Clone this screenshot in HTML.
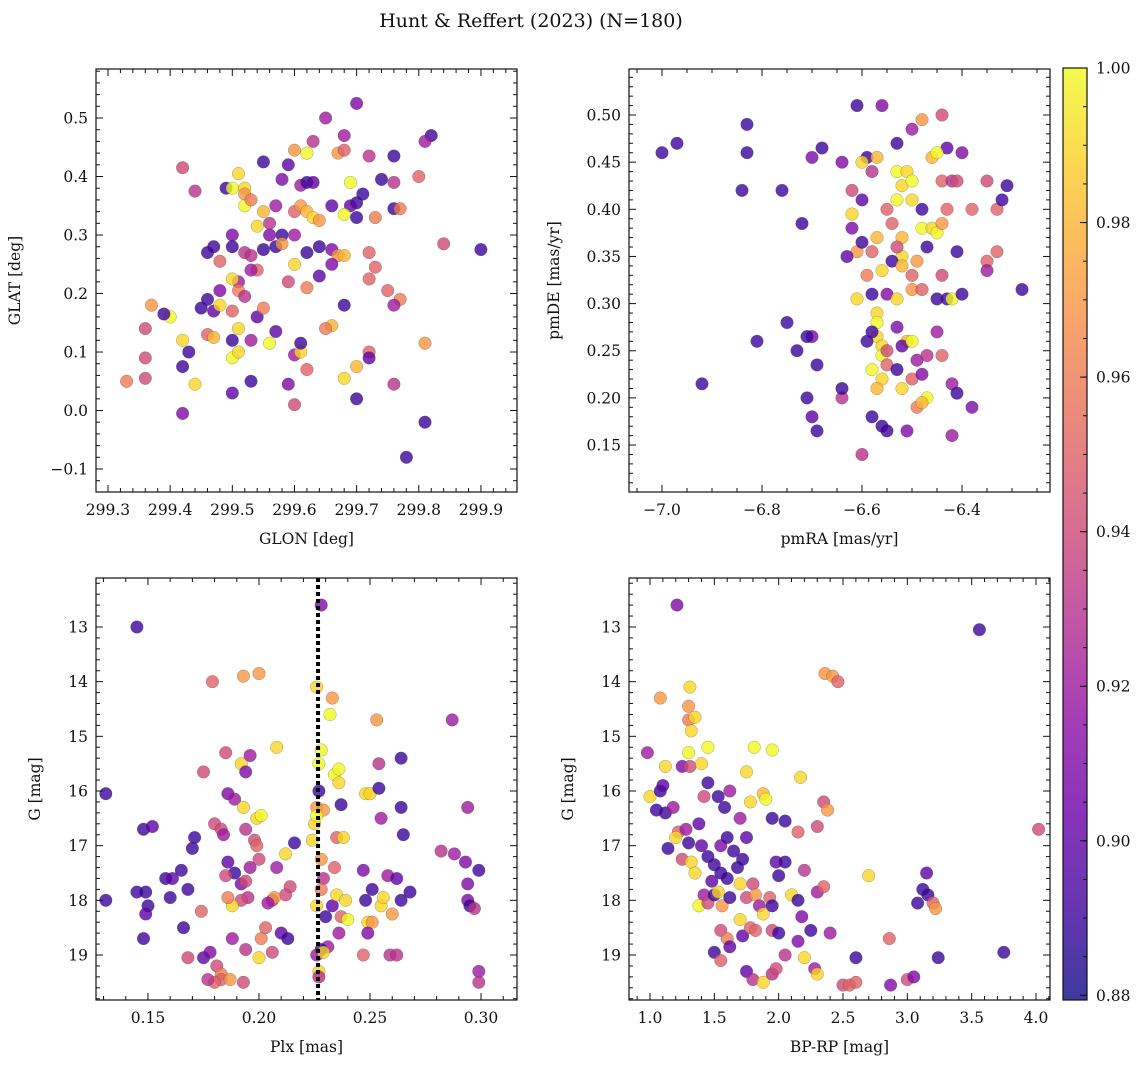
<!DOCTYPE html>
<html><head><meta charset="utf-8">
<style>
html,body{margin:0;padding:0;background:#fff;}
svg{display:block;font-family:"DejaVu Serif","Liberation Serif",serif;}
</style></head>
<body>
<svg id="fig" width="1148" height="1068" viewBox="0 0 1148 1068" xmlns="http://www.w3.org/2000/svg">
<defs>
<linearGradient id="plasmaGrad" x1="0" y1="1" x2="0" y2="0">
<stop offset="0" stop-color="#0d0887"/><stop offset="0.1" stop-color="#41049d"/><stop offset="0.2" stop-color="#6a00a8"/><stop offset="0.3" stop-color="#8f0da4"/><stop offset="0.4" stop-color="#b12a90"/><stop offset="0.5" stop-color="#cc4778"/><stop offset="0.6" stop-color="#e16462"/><stop offset="0.7" stop-color="#f2844b"/><stop offset="0.8" stop-color="#fca636"/><stop offset="0.9" stop-color="#fcce25"/><stop offset="1" stop-color="#f0f921"/>
</linearGradient>
</defs>
<text x="531" y="27" text-anchor="middle" font-size="19" fill="#111">Hunt &amp; Reffert (2023) (N=180)</text>
</svg>
<script>
// ---- Panel 1: GLON vs GLAT ----
const p1Glon=[299.70,299.65,299.82,299.81,299.68,299.63,299.42,299.55,299.59,299.62,299.60,299.67,299.68,299.72,299.76,299.51,299.49,299.50,299.52,299.52,299.44,299.61,299.58,299.62,299.63,299.69,299.74,299.76,299.80,299.71,299.70,299.69,299.73,299.76,299.77,299.84,299.90,299.52,299.53,299.55,299.57,299.60,299.61,299.62,299.63,299.64,299.66,299.68,299.70,299.54,299.56,299.58,299.50,299.47,299.46,299.48,299.50,299.52,299.53,299.55,299.56,299.57,299.58,299.60,299.62,299.64,299.66,299.67,299.68,299.72,299.73,299.72,299.75,299.77,299.76,299.66,299.64,299.60,299.59,299.62,299.54,299.53,299.51,299.50,299.51,299.48,299.46,299.45,299.47,299.48,299.50,299.52,299.54,299.55,299.68,299.66,299.65,299.40,299.39,299.37,299.36,299.42,299.43,299.42,299.46,299.47,299.44,299.50,299.51,299.51,299.53,299.50,299.56,299.57,299.59,299.60,299.61,299.61,299.62,299.60,299.50,299.53,299.68,299.70,299.72,299.72,299.70,299.76,299.81,299.81,299.78,299.42,299.36,299.33,299.36];
const p1Glat=[0.525,0.50,0.47,0.46,0.47,0.46,0.415,0.425,0.42,0.44,0.445,0.44,0.445,0.435,0.435,0.405,0.38,0.38,0.38,0.37,0.375,0.385,0.395,0.39,0.39,0.39,0.395,0.39,0.40,0.37,0.355,0.35,0.33,0.345,0.345,0.285,0.275,0.35,0.36,0.34,0.35,0.34,0.35,0.34,0.33,0.325,0.35,0.335,0.33,0.315,0.32,0.30,0.30,0.28,0.27,0.255,0.28,0.27,0.265,0.275,0.30,0.28,0.285,0.30,0.27,0.28,0.275,0.265,0.265,0.27,0.245,0.225,0.205,0.19,0.18,0.25,0.23,0.25,0.22,0.21,0.24,0.24,0.22,0.225,0.205,0.205,0.19,0.175,0.17,0.18,0.17,0.195,0.16,0.175,0.18,0.145,0.14,0.16,0.165,0.18,0.14,0.12,0.10,0.075,0.13,0.125,0.045,0.09,0.10,0.14,0.12,0.12,0.115,0.135,0.045,0.095,0.10,0.115,0.07,0.01,0.03,0.05,0.055,0.075,0.10,0.09,0.02,0.045,0.115,-0.02,-0.08,-0.005,0.055,0.05,0.09];
const p1Prob=[0.91,0.92,0.89,0.92,0.92,0.93,0.94,0.89,0.90,1.0,0.97,0.97,0.95,0.93,0.89,0.99,0.89,1.0,0.99,0.97,0.93,0.92,0.91,0.89,0.90,1.0,0.89,0.93,0.95,0.89,0.89,0.90,0.96,0.89,0.96,0.94,0.89,1.0,0.96,0.98,0.92,0.95,0.97,0.98,0.99,0.97,0.90,1.0,0.89,0.99,0.93,0.89,0.91,0.89,0.89,0.95,0.89,0.93,0.93,0.89,0.91,0.89,0.97,0.92,0.89,0.89,0.91,0.97,0.98,0.95,0.95,0.95,0.95,0.96,0.92,0.91,0.90,0.99,0.94,0.96,0.95,0.92,0.92,0.99,0.96,0.91,0.89,0.89,0.90,0.99,0.95,0.93,0.90,0.96,0.89,0.98,0.96,1.0,0.89,0.97,0.94,0.99,0.89,0.89,0.95,0.98,0.99,1.0,0.99,0.99,0.92,0.89,1.0,0.90,0.91,0.92,0.99,0.89,0.95,0.94,0.90,0.89,0.99,0.98,0.95,0.90,0.89,0.93,0.97,0.89,0.89,0.91,0.94,0.96,0.94];
// ---- Panel 2: pmRA vs pmDE ----
const p2PmRA=[-7.0,-6.97,-6.83,-6.83,-6.84,-6.76,-6.72,-6.68,-6.70,-6.64,-6.62,-6.60,-6.61,-6.56,-6.59,-6.57,-6.60,-6.58,-6.53,-6.50,-6.48,-6.44,-6.43,-6.40,-6.46,-6.45,-6.62,-6.62,-6.57,-6.55,-6.53,-6.52,-6.53,-6.51,-6.50,-6.54,-6.52,-6.50,-6.48,-6.48,-6.46,-6.45,-6.44,-6.43,-6.44,-6.42,-6.41,-6.38,-6.35,-6.33,-6.31,-6.32,-6.33,-6.35,-6.35,-6.41,-6.44,-6.47,-6.49,-6.50,-6.52,-6.53,-6.54,-6.56,-6.58,-6.61,-6.63,-6.59,-6.60,-6.61,-6.58,-6.55,-6.53,-6.52,-6.50,-6.48,-6.45,-6.43,-6.42,-6.40,-6.28,-6.57,-6.57,-6.57,-6.58,-6.59,-6.56,-6.56,-6.55,-6.53,-6.51,-6.52,-6.50,-6.49,-6.47,-6.45,-6.58,-6.56,-6.57,-6.55,-6.53,-6.52,-6.50,-6.49,-6.48,-6.47,-6.48,-6.44,-6.42,-6.41,-6.38,-6.42,-6.51,-6.55,-6.56,-6.58,-6.60,-6.64,-6.64,-6.69,-6.70,-6.71,-6.70,-6.71,-6.73,-6.69,-6.75,-6.81,-6.92];
const p2PmDE=[0.46,0.47,0.49,0.46,0.42,0.42,0.385,0.465,0.455,0.45,0.42,0.41,0.51,0.51,0.455,0.455,0.45,0.44,0.47,0.485,0.495,0.50,0.465,0.46,0.455,0.46,0.395,0.38,0.37,0.40,0.41,0.425,0.44,0.44,0.43,0.385,0.37,0.41,0.40,0.38,0.38,0.375,0.385,0.40,0.43,0.43,0.43,0.40,0.43,0.40,0.425,0.41,0.355,0.345,0.335,0.355,0.33,0.36,0.345,0.33,0.35,0.36,0.345,0.335,0.355,0.355,0.35,0.33,0.365,0.305,0.31,0.31,0.305,0.34,0.315,0.315,0.305,0.305,0.305,0.31,0.315,0.29,0.28,0.265,0.27,0.26,0.255,0.245,0.25,0.275,0.26,0.255,0.26,0.24,0.245,0.27,0.23,0.22,0.21,0.235,0.23,0.21,0.22,0.19,0.225,0.2,0.195,0.245,0.215,0.205,0.19,0.16,0.165,0.165,0.17,0.18,0.14,0.2,0.21,0.165,0.18,0.2,0.265,0.265,0.25,0.235,0.28,0.26,0.215];
const p2Prob=[0.89,0.89,0.89,0.89,0.89,0.89,0.89,0.89,0.91,0.91,0.94,0.90,0.89,0.91,0.89,0.98,0.99,0.93,0.89,0.92,0.97,0.94,0.90,0.91,0.98,1.0,0.99,0.91,0.98,0.95,1.0,0.99,1.0,0.99,1.0,0.95,0.98,0.99,0.89,1.0,0.99,1.0,0.97,0.95,0.95,0.93,0.94,0.95,0.94,0.95,0.89,0.89,0.95,0.95,0.92,0.89,0.94,0.89,0.97,0.95,0.99,0.94,0.89,0.99,0.95,0.97,0.90,0.96,0.89,0.99,0.89,0.91,0.99,0.98,0.97,0.95,0.89,0.89,1.0,0.89,0.89,0.99,1.0,0.99,0.89,0.89,0.99,1.0,0.94,0.91,0.98,0.90,1.0,0.92,0.93,0.92,1.0,0.99,0.98,0.95,0.89,0.99,0.95,0.96,0.91,1.0,0.98,0.95,0.92,0.89,0.91,0.92,0.91,0.89,0.89,0.89,0.93,0.93,0.89,0.89,0.90,0.89,0.91,0.89,0.89,0.89,0.89,0.89,0.89];
// ---- Panel 3: Plx vs G ----
const p3Plx=[0.145,0.131,0.131,0.148,0.152,0.145,0.149,0.150,0.149,0.148,0.158,0.161,0.160,0.165,0.168,0.170,0.171,0.166,0.168,0.175,0.178,0.181,0.183,0.183,0.180,0.177,0.174,0.175,0.179,0.193,0.200,0.180,0.183,0.184,0.185,0.192,0.194,0.196,0.186,0.189,0.193,0.194,0.199,0.201,0.198,0.199,0.200,0.186,0.189,0.192,0.194,0.196,0.195,0.192,0.188,0.185,0.186,0.188,0.187,0.193,0.194,0.200,0.201,0.203,0.206,0.208,0.212,0.210,0.213,0.214,0.216,0.212,0.208,0.207,0.204,0.206,0.228,0.226,0.226,0.229,0.228,0.224,0.225,0.226,0.227,0.227,0.228,0.232,0.233,0.234,0.236,0.236,0.237,0.235,0.238,0.234,0.229,0.228,0.226,0.230,0.233,0.235,0.237,0.239,0.240,0.236,0.231,0.228,0.226,0.229,0.227,0.227,0.248,0.250,0.253,0.254,0.254,0.255,0.247,0.248,0.249,0.251,0.251,0.255,0.256,0.258,0.249,0.247,0.259,0.260,0.262,0.264,0.264,0.265,0.264,0.268,0.262,0.287,0.282,0.288,0.293,0.294,0.294,0.294,0.295,0.297,0.299,0.299,0.299];
const p3G=[13.0,16.05,18.0,16.7,16.65,17.85,17.85,18.1,18.25,18.7,17.6,17.6,17.95,17.45,17.8,17.05,16.85,18.5,19.05,19.05,18.95,19.2,19.35,19.45,19.5,19.45,18.2,15.65,14.0,13.9,13.85,16.6,16.7,16.8,15.3,15.5,15.65,15.35,16.05,16.15,16.3,16.7,16.5,16.45,16.9,17.0,17.25,17.3,17.5,17.7,17.65,17.4,17.95,18.0,18.1,17.55,17.95,18.7,19.45,19.5,18.9,19.05,18.7,18.5,18.0,15.2,17.15,18.6,18.7,17.75,16.95,17.9,17.4,17.95,18.05,18.95,12.6,14.1,16.3,16.35,17.25,16.9,16.6,16.45,16.0,15.5,15.25,14.6,14.3,15.7,15.6,15.85,16.25,16.85,16.85,17.4,17.6,17.8,18.1,18.3,18.1,17.9,18.3,18.0,18.35,18.6,18.85,18.9,19.0,18.95,19.3,19.4,16.05,16.05,14.7,15.5,15.95,16.5,17.45,18.0,18.4,18.4,17.8,18.1,17.95,17.55,18.6,19.0,19.0,18.25,17.6,15.4,16.3,16.8,18.0,17.85,19.0,14.7,17.1,17.15,17.3,16.3,17.7,18.0,18.1,18.15,17.45,19.3,19.5];
const p3Prob=[0.89,0.89,0.89,0.89,0.90,0.89,0.89,0.89,0.90,0.89,0.89,0.90,0.89,0.89,0.89,0.89,0.89,0.89,0.94,0.90,0.91,0.94,0.96,0.95,0.95,0.93,0.95,0.94,0.95,0.97,0.97,0.94,0.94,0.92,0.94,0.99,0.91,0.92,0.91,0.92,0.99,0.93,0.99,1.0,0.94,0.95,0.94,0.90,0.89,0.91,0.94,0.92,0.93,0.94,0.99,0.94,0.96,0.92,0.97,0.94,0.93,0.99,0.96,0.95,0.93,0.99,0.99,0.90,0.89,0.94,0.89,0.94,0.92,0.97,0.92,0.94,0.91,0.99,0.97,0.97,0.97,0.99,0.99,1.0,0.89,1.0,1.0,1.0,0.97,1.0,1.0,0.99,0.89,0.95,0.99,0.95,0.93,0.96,0.99,0.89,0.90,0.99,0.95,0.99,1.0,0.92,0.92,0.89,0.92,0.99,0.99,0.93,0.99,0.99,0.97,0.93,0.89,0.92,0.91,0.89,0.99,0.97,0.89,0.99,0.99,0.92,0.91,0.95,0.93,0.97,0.90,0.89,0.89,0.89,0.89,0.89,0.93,0.92,0.93,0.92,0.91,0.92,0.91,0.91,0.89,0.93,0.89,0.92,0.93];
// ---- Panel 4: BP-RP vs G ----
const p4Color=[1.21,3.56,2.36,2.42,2.46,1.08,1.31,1.30,1.30,1.35,1.32,1.30,1.45,1.81,1.95,0.98,1.12,1.25,1.31,1.40,1.45,1.75,2.17,1.00,1.08,1.10,1.05,1.12,1.18,1.22,1.20,1.14,1.28,1.30,1.38,1.42,1.53,1.58,1.62,1.70,1.75,1.78,1.88,1.90,1.95,2.05,2.35,2.38,2.30,2.15,1.25,1.32,1.35,1.40,1.45,1.50,1.55,1.60,1.65,1.68,1.72,1.55,1.60,1.48,1.42,1.38,1.45,1.50,1.53,1.56,1.62,1.70,1.75,1.80,1.82,1.85,1.88,1.93,1.95,1.98,2.00,2.05,2.10,2.15,2.20,2.30,2.35,2.18,2.25,2.40,1.55,1.60,1.70,1.72,1.78,1.82,1.95,2.00,2.15,1.50,1.55,1.62,1.75,1.80,1.88,1.95,1.98,2.05,2.20,2.28,2.30,2.50,2.55,2.60,2.60,2.87,2.86,2.70,3.00,3.05,3.08,3.12,3.15,3.16,3.20,3.22,3.24,3.75,4.02];
const p4G=[12.6,13.05,13.85,13.9,14.0,14.3,14.1,14.45,14.7,14.65,14.9,15.3,15.2,15.2,15.25,15.3,15.55,15.55,15.55,15.5,15.85,15.65,15.75,16.1,16.0,15.9,16.35,16.4,16.3,16.75,16.85,17.05,16.7,16.95,16.6,16.1,16.1,16.3,16.0,16.5,16.85,16.2,16.05,16.15,16.5,16.55,16.2,16.35,16.65,16.75,17.25,17.3,17.5,17.0,17.2,17.35,17.0,16.85,17.1,17.4,17.25,17.5,17.6,17.65,17.9,18.1,18.05,17.9,17.85,18.1,17.95,17.7,17.95,17.7,17.9,18.1,18.25,17.95,18.1,17.3,17.55,17.3,17.9,18.0,17.45,17.85,17.75,18.3,18.55,18.6,18.55,18.7,18.35,18.65,18.5,18.55,18.55,18.6,18.75,18.95,19.1,18.85,19.3,19.45,19.5,19.35,19.25,19.0,19.05,19.25,19.35,19.55,19.55,19.05,19.5,19.55,18.7,17.55,19.45,19.4,18.05,17.8,17.5,17.9,18.05,18.15,19.05,18.95,16.7];
const p4Prob=[0.91,0.89,0.97,0.97,0.95,0.97,0.99,0.97,0.96,0.99,0.99,1.0,1.0,1.0,1.0,0.92,0.99,0.91,0.94,0.99,0.89,0.99,0.99,0.99,0.89,0.90,0.89,0.89,0.92,0.95,0.99,0.89,0.92,0.89,0.90,0.94,0.89,0.89,0.92,0.92,0.90,0.99,0.98,1.0,0.89,0.89,0.94,0.97,0.94,0.95,0.94,0.99,0.99,0.90,0.89,0.89,0.91,0.89,0.89,0.89,0.89,0.89,0.89,0.90,0.92,1.0,0.94,0.89,0.99,0.97,0.89,0.99,0.94,0.94,0.97,0.92,0.99,0.95,0.89,0.90,0.89,0.89,0.99,0.89,0.93,0.92,0.95,0.91,0.89,0.92,0.94,0.96,0.99,0.90,0.95,0.95,0.94,0.89,0.91,0.89,0.95,0.90,0.90,0.93,0.99,0.93,0.94,0.93,0.99,0.92,0.99,0.94,0.95,0.89,0.95,0.91,0.95,0.99,0.94,0.91,0.89,0.89,0.90,0.89,0.95,0.97,0.89,0.89,0.94];
// ---- Colorbar ticks ----
const cbarTicks=[0.88,0.90,0.92,0.94,0.96,0.98,1.00];

const svg=document.getElementById('fig');
const NS='http://www.w3.org/2000/svg';
const VMIN=0.8794, VMAX=1.0;
const plasma=[[13,8,135],[65,4,157],[106,0,168],[143,13,164],[177,42,144],[204,71,120],[225,100,98],[242,132,75],[252,166,54],[252,206,37],[240,249,33]];
function cmap(v){let t=(v-VMIN)/(VMAX-VMIN);t=Math.max(0,Math.min(1,t))*10;const i=Math.min(9,Math.floor(t)),f=t-i;const a=plasma[i],b=plasma[i+1];return 'rgb('+a.map((c,k)=>Math.round(c+(b[k]-c)*f)).join(',')+')';}
function mk(tag,attrs,parent){const e=document.createElementNS(NS,tag);for(const k in attrs)e.setAttribute(k,attrs[k]);(parent||svg).appendChild(e);return e;}
function fmt(v,d){const s=Math.abs(v).toFixed(d);return (v<-1e-9?'\u2212':'')+s;}

function panel(o){
  const g=mk('g',{});
  
  
  const sx=v=>o.L+(v-o.x0)/(o.x1-o.x0)*(o.R-o.L);
  const sy=o.invY?(v=>o.T+(v-o.y0)/(o.y1-o.y0)*(o.B-o.T)):(v=>o.B-(v-o.y0)/(o.y1-o.y0)*(o.B-o.T));
  const clip='clip-'+o.name;
  const cp=mk('clipPath',{id:clip},g);mk('rect',{x:o.L,y:o.T,width:o.R-o.L,height:o.B-o.T},cp);
  const pts=mk('g',{'clip-path':'url(#'+clip+')'},g);
  
  
  for(let i=0;i<o.xs.length;i++){
    const c=mk('circle',{cx:sx(o.xs[i]).toFixed(1),cy:sy(o.ys[i]).toFixed(1),r:6.3,fill:cmap(o.cs[i]),'fill-opacity':0.8,stroke:'rgba(60,60,60,0.45)','stroke-width':0.5},pts);
    
    
  }
  if(o.vline!==undefined){
    const l=mk('line',{x1:sx(o.vline),x2:sx(o.vline),y1:o.T,y2:o.B,stroke:'#000','stroke-width':4,'stroke-dasharray':'4,3'},g);
    
    
  }
  const fr=mk('rect',{x:o.L,y:o.T,width:o.R-o.L,height:o.B-o.T,fill:'none',stroke:'#111','stroke-width':1.2},g);
  
  
  const eps=1e-9;
  const xa=Math.min(o.x0,o.x1),xb=Math.max(o.x0,o.x1);
  for(let v=Math.ceil(xa/o.xmin-eps)*o.xmin;v<=xb+eps;v+=o.xmin){
    const X=sx(v);const major=Math.abs(v/o.xmaj-Math.round(v/o.xmaj))<1e-6;const len=major?7:4;
    mk('line',{x1:X,x2:X,y1:o.B,y2:o.B-len,stroke:'#111','stroke-width':1},g);
    mk('line',{x1:X,x2:X,y1:o.T,y2:o.T+len,stroke:'#111','stroke-width':1},g);
    if(major){const t=mk('text',{x:X,y:o.B+23,'text-anchor':'middle','font-size':15.5,fill:'#111'},g);t.textContent=fmt(v,o.xd);
      
      }
  }
  const ya=Math.min(o.y0,o.y1),yb=Math.max(o.y0,o.y1);
  for(let v=Math.ceil(ya/o.ymin-eps)*o.ymin;v<=yb+eps;v+=o.ymin){
    const Y=sy(v);const major=Math.abs(v/o.ymaj-Math.round(v/o.ymaj))<1e-6;const len=major?7:4;
    mk('line',{x1:o.L,x2:o.L+len,y1:Y,y2:Y,stroke:'#111','stroke-width':1},g);
    mk('line',{x1:o.R,x2:o.R-len,y1:Y,y2:Y,stroke:'#111','stroke-width':1},g);
    if(major){const t=mk('text',{x:o.L-8,y:Y+5.5,'text-anchor':'end','font-size':15.5,fill:'#111'},g);t.textContent=fmt(v,o.yd);
      
      }
  }
  const xl=mk('text',{x:(o.L+o.R)/2,y:o.B+52,'text-anchor':'middle','font-size':15.5,fill:'#111'},g);xl.textContent=o.xlabel;
  
  
  const yx=o.L-o.ylOff,yy=(o.T+o.B)/2;
  const yl=mk('text',{x:yx,y:yy,'text-anchor':'middle','font-size':15.5,fill:'#111',transform:'rotate(-90 '+yx+' '+yy+')'},g);yl.textContent=o.ylabel;
  
  
}

panel({name:'glon-glat-panel',L:96,R:517,T:69,B:492,x0:299.2807,x1:299.958,y0:-0.1393,y1:0.5838,xmaj:0.1,xmin:0.02,ymaj:0.1,ymin:0.02,xd:1,yd:1,xs:p1Glon,ys:p1Glat,cs:p1Prob,xlabel:'GLON [deg]',ylabel:'GLAT [deg]',ylOff:76});
panel({name:'pm-panel',L:629,R:1050,T:69,B:492,x0:-7.066,x1:-6.224,y0:0.1002,y1:0.5488,xmaj:0.2,xmin:0.05,ymaj:0.05,ymin:0.01,xd:1,yd:2,xs:p2PmRA,ys:p2PmDE,cs:p2Prob,xlabel:'pmRA [mas/yr]',ylabel:'pmDE [mas/yr]',ylOff:70});
panel({name:'plx-g-panel',L:96,R:517,T:578,B:1000,x0:0.1266,x1:0.3162,y0:12.104,y1:19.823,invY:true,xmaj:0.05,xmin:0.01,ymaj:1,ymin:0.2,xd:2,yd:0,xs:p3Plx,ys:p3G,cs:p3Prob,xlabel:'Plx [mas]',ylabel:'G [mag]',ylOff:56,vline:0.2266});
panel({name:'cmd-panel',L:629,R:1050,T:578,B:1000,x0:0.8368,x1:4.1088,y0:12.104,y1:19.823,invY:true,xmaj:0.5,xmin:0.1,ymaj:1,ymin:0.2,xd:1,yd:0,xs:p4Color,ys:p4G,cs:p4Prob,xlabel:'BP-RP [mag]',ylabel:'G [mag]',ylOff:56});

(function(){
  const L=1063,R=1087,T=68,B=1000;
  const g=mk('g',{});
  
  
  mk('rect',{x:L,y:T,width:R-L,height:B-T,fill:'url(#plasmaGrad)','fill-opacity':0.8},g);
  mk('rect',{x:L,y:T,width:R-L,height:B-T,fill:'none',stroke:'#111','stroke-width':1.2},g);
  const sy=v=>B-(v-VMIN)/(VMAX-VMIN)*(B-T);
  for(let v=0.88;v<=1.0001;v+=0.005){
    const Y=sy(v);mk('line',{x1:R,x2:R-4,y1:Y,y2:Y,stroke:'#111','stroke-width':1},g);
  }
  cbarTicks.forEach(v=>{
    const Y=sy(v);mk('line',{x1:R,x2:R-7,y1:Y,y2:Y,stroke:'#111','stroke-width':1},g);
    const t=mk('text',{x:R+9,y:Y+5.5,'font-size':15.5,fill:'#111'},g);t.textContent=v.toFixed(2);
    
    
  });
})();
</script>
</body></html>
